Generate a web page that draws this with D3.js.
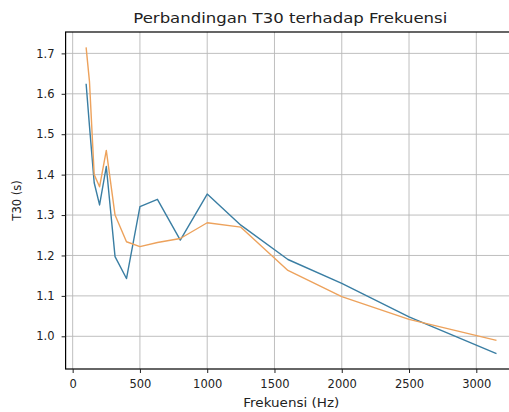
<!DOCTYPE html>
<html>
<head>
<meta charset="utf-8">
<script src="https://cdn.jsdelivr.net/npm/d3@7"></script>
<style>
  html, body { margin: 0; padding: 0; background: #fff; }
  svg { display: block; font-family: "DejaVu Sans", sans-serif; }
</style>
</head>
<body>
<div id="chart"></div>
<script>
// frekuensi (Hz)
const frekuensi = [100, 125, 160, 200, 250, 315, 400, 500, 630, 800, 1000, 1250, 1600, 2000, 2500, 3150];
// T30 (s) - dua seri
const t30Biru = [1.625, 1.52, 1.38, 1.325, 1.42, 1.197, 1.143, 1.321, 1.339, 1.238, 1.352, 1.275, 1.19, 1.131, 1.048, 0.957];
const t30Oranye = [1.715, 1.63, 1.40, 1.37, 1.46, 1.30, 1.234, 1.222, 1.232, 1.242, 1.281, 1.27, 1.163, 1.098, 1.042, 0.99];
const xTicks = [0, 500, 1000, 1500, 2000, 2500, 3000];
const yTicks = [1.0, 1.1, 1.2, 1.3, 1.4, 1.5, 1.6, 1.7];

const width = 509, height = 412;
const plot = { left: 65.6, right: 517, top: 32, bottom: 369 };

// domain dengan padding 5% seperti matplotlib
const pad = (ext) => { const s = ext[1] - ext[0]; return [ext[0] - s * 0.05, ext[1] + s * 0.05]; };
const allY = t30Biru.concat(t30Oranye);

const x = d3.scaleLinear()
    .domain(pad(d3.extent(frekuensi)))
    .range([plot.left, plot.right]);

const y = d3.scaleLinear()
    .domain(pad(d3.extent(allY)))
    .range([plot.bottom, plot.top]);

const svg = d3.select("#chart").append("svg")
    .attr("width", width)
    .attr("height", height);

// grid
svg.append("g").selectAll("line")
    .data(xTicks)
    .join("line")
    .attr("x1", d => x(d)).attr("x2", d => x(d))
    .attr("y1", plot.top).attr("y2", plot.bottom)
    .attr("stroke", "#b8b8b8").attr("stroke-width", 0.9);

svg.append("g").selectAll("line")
    .data(yTicks)
    .join("line")
    .attr("x1", plot.left).attr("x2", plot.right)
    .attr("y1", d => y(d)).attr("y2", d => y(d))
    .attr("stroke", "#b8b8b8").attr("stroke-width", 0.9);

// lines
const line = d3.line()
    .x((d, i) => x(frekuensi[i]))
    .y(d => y(d));

const series = [
    { name: "biru", values: t30Biru, color: "#3a7ea3" },
    { name: "oranye", values: t30Oranye, color: "#eda25c" }
];

svg.append("g").selectAll("path")
    .data(series)
    .join("path")
    .attr("fill", "none")
    .attr("stroke", d => d.color)
    .attr("stroke-width", 1.4)
    .attr("stroke-linejoin", "round")
    .attr("d", d => line(d.values));

// spines
svg.append("rect")
    .attr("x", plot.left).attr("y", plot.top)
    .attr("width", plot.right - plot.left).attr("height", plot.bottom - plot.top)
    .attr("fill", "none").attr("stroke", "#000").attr("stroke-width", 1.2);

// axes
const xAxis = svg.append("g")
    .attr("transform", `translate(0,${plot.bottom})`)
    .call(d3.axisBottom(x).tickValues(xTicks).tickFormat(d3.format("d")).tickSize(4).tickPadding(7).tickSizeOuter(0));

const yAxis = svg.append("g")
    .attr("transform", `translate(${plot.left},0)`)
    .call(d3.axisLeft(y).tickValues(yTicks).tickFormat(d3.format(".1f")).tickSize(4).tickPadding(7).tickSizeOuter(0));

[xAxis, yAxis].forEach(g => {
    g.select(".domain").remove();
    g.selectAll("text").style("font-size", "11.5px").style("fill", "#222").style("font-family", "DejaVu Sans");
    g.selectAll("line").attr("stroke", "#222");
});

// judul & label
svg.append("text")
    .attr("x", (plot.left + plot.right) / 2 - 1)
    .attr("y", 23)
    .attr("text-anchor", "middle")
    .attr("textLength", 314)
    .attr("lengthAdjust", "spacingAndGlyphs")
    .style("font-size", "13.5px")
    .style("fill", "#222")
    .text("Perbandingan T30 terhadap Frekuensi");

svg.append("text")
    .attr("x", (plot.left + plot.right) / 2)
    .attr("y", 407)
    .attr("text-anchor", "middle")
    .attr("textLength", 96)
    .attr("lengthAdjust", "spacingAndGlyphs")
    .style("font-size", "11.5px")
    .style("fill", "#222")
    .text("Frekuensi (Hz)");

svg.append("text")
    .attr("transform", `translate(21,${(plot.top + plot.bottom) / 2}) rotate(-90)`)
    .attr("text-anchor", "middle")
    .style("font-size", "11.5px")
    .style("fill", "#222")
    .text("T30 (s)");
</script>
</body>
</html>
